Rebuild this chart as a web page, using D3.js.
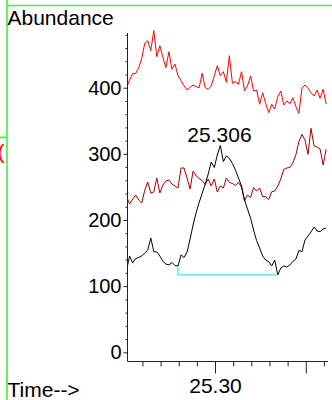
<!DOCTYPE html>
<html>
<head>
<meta charset="utf-8">
<script src="https://cdn.jsdelivr.net/npm/d3@7/dist/d3.min.js"></script>
<style>
  html, body { margin: 0; padding: 0; background: #ffffff; }
  svg { display: block; }
  text { font-family: "Liberation Sans", Arial, sans-serif; }
</style>
</head>
<body>
<script>
// ---------- data ----------
const times = [
  25.2025, 25.2058, 25.2092, 25.2125, 25.2158, 25.2192, 25.2225, 25.2258, 25.2292, 25.2325,
  25.2358, 25.2392, 25.2425, 25.2458, 25.2492, 25.2525, 25.2558, 25.2592, 25.2625, 25.2658,
  25.2692, 25.2725, 25.2758, 25.2792, 25.2825, 25.2858, 25.2892, 25.2925, 25.2958, 25.2992,
  25.3025, 25.3058, 25.3092, 25.3125, 25.3158, 25.3192, 25.3225, 25.3258, 25.3292, 25.3325,
  25.3358, 25.3392, 25.3425, 25.3458, 25.3492, 25.3525, 25.3558, 25.3592, 25.3625, 25.3658,
  25.3692, 25.3725, 25.3758, 25.3792, 25.3825, 25.3858, 25.3892, 25.3925, 25.3958, 25.3992,
  25.4025, 25.4058, 25.4092, 25.4125, 25.4158, 25.4192, 25.4225
];
const redSeries = [
  400.0, 411.6, 421.5, 421.5, 430.0, 444.4, 467.1, 471.1, 455.9, 486.2,
  446.9, 463.5, 446.0, 430.2, 454.4, 427.8, 435.8, 418.1, 410.6, 403.0,
  396.5, 400.6, 404.1, 401.5, 400.0, 421.8, 400.0, 397.6, 402.6, 418.1,
  433.3, 418.1, 424.2, 408.2, 448.4, 406.7, 409.1, 405.1, 424.2, 395.5,
  402.6, 417.7, 395.0, 396.5, 374.9, 392.4, 376.4, 362.2, 374.9, 367.8,
  386.4, 395.0, 373.8, 379.9, 375.8, 384.9, 371.3, 361.3, 399.1, 404.1,
  399.1, 392.4, 387.5, 396.5, 384.0, 397.6, 375.4
];
const darkRedSeries = [
  235.5, 224.2, 231.7, 237.8, 230.2, 225.7, 244.9, 257.4, 240.8, 242.3,
  263.4, 240.8, 252.9, 258.9, 260.4, 254.4, 251.4, 248.4, 278.6, 278.6,
  263.4, 246.8, 274.1, 266.6, 262.8, 259.7, 253.7, 262.0, 251.4, 262.0,
  242.3, 251.4, 248.4, 263.4, 256.7, 255.2, 252.2, 256.7, 249.9, 228.7,
  237.8, 234.0, 249.1, 243.8, 248.4, 235.5, 235.5, 231.0, 242.8, 243.8,
  251.4, 262.0, 276.3, 278.6, 279.4, 286.2, 299.0, 318.7, 329.3, 320.9,
  299.3, 338.6, 311.9, 310.4, 307.3, 283.1, 306.9
];
const blackSeries = [
  124.4, 145.6, 135.0, 141.8, 143.3, 145.6, 150.1, 154.6, 172.8, 152.4,
  151.6, 145.6, 137.3, 133.5, 132.0, 135.8, 131.2, 130.5, 147.1, 143.3,
  151.6, 171.3, 192.4, 211.3, 226.5, 240.1, 254.4, 269.5, 287.7, 279.4,
  298.3, 312.6, 288.4, 296.8, 293.3, 285.4, 275.6, 263.5, 251.4, 230.2,
  216.6, 203.0, 184.9, 169.0, 157.7, 145.6, 139.5, 137.0, 130.5, 139.5,
  116.9, 127.4, 130.5, 128.9, 132.0, 137.3, 141.0, 153.9, 152.1, 169.8,
  175.8, 181.9, 189.4, 183.4, 182.3, 186.4, 187.9
];
// integration baseline (cyan)
const baselineTimes = [25.2592, 25.2592, 25.3692];
const baselineValues = [130.5, 116.9, 116.9];
// peak annotation
const peakTime = 25.3058;
const peakValue = 312.6;
const peakLabel = "25.306";

const xDomain = [25.2035, 25.4262];
const yDomain = [0, 483];
const yMajorTicks = [0, 100, 200, 300, 400];
const yMinorTicks = [20, 40, 60, 80, 120, 140, 160, 180, 220, 240, 260, 280, 320, 340, 360, 380, 420, 440, 460, 480];
const xMajorTicks = [25.30, 25.40];
const xTickLabels = ["25.30", ""];
const xMinorTicks = [25.22, 25.24, 25.26, 25.28, 25.32, 25.34, 25.36, 25.38, 25.42];
const yTitle = "Abundance";
const xTitle = "Time-->";

// ---------- drawing ----------
const W = 332, H = 400;
const svg = d3.select("body").append("svg").attr("width", W).attr("height", H);
svg.append("rect").attr("width", W).attr("height", H).attr("fill", "#ffffff");

const x = d3.scaleLinear().domain(xDomain).range([127.5, 329.5]);
const y = d3.scaleLinear().domain(yDomain).range([352.3, 32.8]);
const axisY = 361.5;

// green frame decorations
const green = "#3cf03c";
svg.append("line").attr("x1", 7).attr("x2", W).attr("y1", 5.5).attr("y2", 5.5)
  .attr("stroke", green).attr("stroke-width", 1.6);
svg.append("line").attr("x1", 7).attr("x2", 7).attr("y1", 0).attr("y2", H)
  .attr("stroke", green).attr("stroke-width", 1.6);
svg.append("line").attr("x1", 0).attr("x2", 7).attr("y1", 137.5).attr("y2", 137.5)
  .attr("stroke", green).attr("stroke-width", 1.6);
svg.append("text").attr("x", -2.5).attr("y", 158.5).attr("font-size", 21)
  .attr("fill", "#ff0000").text("(");

// clip for the traces
svg.append("defs").append("clipPath").attr("id", "plotclip")
  .append("rect").attr("x", 128).attr("y", 0).attr("width", W - 128).attr("height", axisY);

const line = d3.line().x((d, i) => x(times[i])).y(d => y(d));
const traces = svg.append("g").attr("clip-path", "url(#plotclip)");
[[redSeries, "#ff0000"], [darkRedSeries, "#a00000"], [blackSeries, "#000000"]].forEach(([s, c]) => {
  traces.append("path").datum(s).attr("d", line).attr("fill", "none")
    .attr("stroke", c).attr("stroke-width", 1).attr("stroke-linejoin", "round");
});
// cyan baseline
const bl = d3.line().x((d, i) => x(baselineTimes[i])).y(d => y(d));
traces.append("path").datum(baselineValues).attr("d", bl).attr("fill", "none")
  .attr("stroke", "#40e8e8").attr("stroke-width", 1.2);

// axes
const axisColor = "#222";
const yAxisMajor = d3.axisLeft(y).tickValues(yMajorTicks).tickSize(4).tickPadding(2).tickSizeOuter(0);
const gy = svg.append("g").attr("transform", "translate(127.5,0)").call(yAxisMajor);
gy.select(".domain").remove();
gy.selectAll("line").attr("stroke", axisColor);
gy.selectAll("text").attr("font-size", 20).attr("fill", "#000")
  .attr("font-family", "'Liberation Sans', Arial, sans-serif");
const yAxisMinor = d3.axisLeft(y).tickValues(yMinorTicks).tickSize(2).tickFormat("").tickSizeOuter(0);
const gy2 = svg.append("g").attr("transform", "translate(127.5,0)").call(yAxisMinor);
gy2.select(".domain").remove();
gy2.selectAll("line").attr("stroke", axisColor);

const xAxisMajor = d3.axisBottom(x).tickValues(xMajorTicks).tickSize(12).tickPadding(5)
  .tickFormat((d, i) => xTickLabels[i]).tickSizeOuter(0);
const gx = svg.append("g").attr("transform", `translate(0,${axisY})`).call(xAxisMajor);
gx.select(".domain").remove();
gx.selectAll("line").attr("stroke", axisColor);
gx.selectAll("text").attr("font-size", 21).attr("fill", "#000")
  .attr("font-family", "'Liberation Sans', Arial, sans-serif");
const xAxisMinor = d3.axisBottom(x).tickValues(xMinorTicks).tickSize(5).tickFormat("").tickSizeOuter(0);
const gx2 = svg.append("g").attr("transform", `translate(0,${axisY})`).call(xAxisMinor);
gx2.select(".domain").remove();
gx2.selectAll("line").attr("stroke", axisColor);

// axis lines
svg.append("line").attr("x1", 127.5).attr("x2", 127.5).attr("y1", 33).attr("y2", axisY)
  .attr("stroke", axisColor).attr("stroke-width", 1);
svg.append("line").attr("x1", 127.5).attr("x2", 328).attr("y1", axisY).attr("y2", axisY)
  .attr("stroke", axisColor).attr("stroke-width", 1);

// titles
svg.append("text").attr("x", 7.5).attr("y", 25).attr("font-size", 21).attr("fill", "#000").text(yTitle);
svg.append("text").attr("x", 7.5).attr("y", 396.5).attr("font-size", 21).attr("fill", "#000").text(xTitle);

// peak label
svg.append("text").attr("x", x(peakTime) - 0.8).attr("y", y(peakValue) - 4)
  .attr("text-anchor", "middle").attr("font-size", 21).attr("fill", "#000").text(peakLabel);
</script>
</body>
</html>
